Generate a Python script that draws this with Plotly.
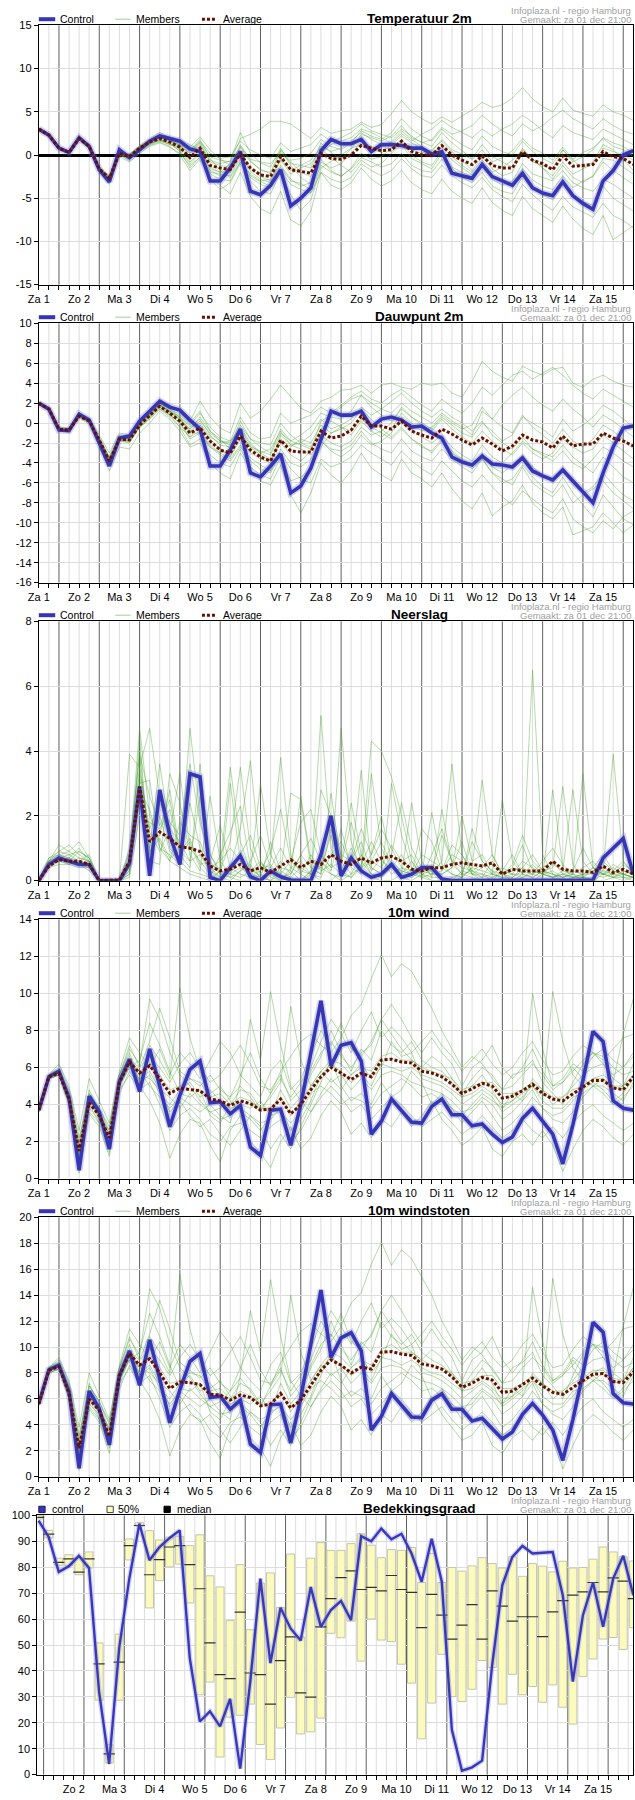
import plotly.graph_objects as go

# ---------------------------------------------------------------- axes data
DAYS = ["Za 1", "Zo 2", "Ma 3", "Di 4", "Wo 5", "Do 6", "Vr 7", "Za 8",
        "Zo 9", "Ma 10", "Di 11", "Wo 12", "Do 13", "Vr 14", "Za 15"]

# hours after Za 1 12:00, ensemble is 6-hourly
HOURS = list(range(0, 360, 6))
# cloud cover steps start at Za 1 21:00
CLOUD_HOURS = list(range(9, 369, 6))
MIDNIGHTS = list(range(12, 360, 24))

TEMP_TICKS = [-15, -10, -5, 0, 5, 10, 15]
DEW_TICKS = [-16, -14, -12, -10, -8, -6, -4, -2, 0, 2, 4, 6, 8, 10]
RAIN_TICKS = [0, 2, 4, 6, 8]
WIND_TICKS = [0, 2, 4, 6, 8, 10, 12, 14]
GUST_TICKS = [0, 2, 4, 6, 8, 10, 12, 14, 16, 18, 20]
CLOUD_TICKS = [0, 10, 20, 30, 40, 50, 60, 70, 80, 90, 100]

# ---------------------------------------------------------------- temperatuur
TEMP_CONTROL = [3.0, 2.3, 0.8, 0.3, 2.0, 1.0, -1.7, -3.1, 0.6, -0.3, 0.6, 1.6, 2.2, 1.9, 1.6, 0.7,
                0.4, -3.0, -3.0, -1.5, 0.4, -4.2, -4.6, -3.5, -1.7, -5.9, -5.0, -3.8, 0.5, 1.8, 1.3, 1.3,
                1.8, 0.4, 1.2, 1.2, 1.1, 0.8, 0.8, 0.1, 0.4, -2.1, -2.4, -2.7, -1.1, -2.5, -3.0, -3.5,
                -2.1, -3.8, -4.4, -4.7, -3.1, -4.7, -5.6, -6.3, -3.0, -1.8, 0.0, 0.5]
TEMP_AVERAGE = [3.0, 2.3, 0.8, 0.3, 1.9, 1.0, -1.6, -2.7, 0.2, -0.2, 0.8, 1.5, 1.9, 1.5, 0.9, -0.3,
                0.8, -1.2, -1.5, -1.7, 0.1, -1.5, -2.3, -2.5, -0.2, -1.7, -1.9, -2.1, 0.2, -0.4, -0.5, 0.0,
                1.1, 0.8, 0.5, 0.6, 1.6, 0.4, 0.0, 0.0, 1.1, 0.0, -0.6, -1.1, -0.1, -1.2, -1.5, -1.5,
                0.4, -0.6, -1.0, -1.7, -0.1, -1.3, -1.2, -1.1, 0.4, -0.2, -0.4, -1.1]
TEMP_MEMBERS = [
    [3.1, 2.4, 0.9, 0.4, 2.1, 1.2, -1.3, -2.4, 0.5, 0.1, 1.1, 1.8, 2.6, 2.0, 1.4, 0.4, 1.5, -0.2, -0.6, -0.8,
     1.9, 2.4, 3.0, 3.9, 3.9, 3.6, 2.8, 1.9, 3.2, 2.5, 2.8, 3.0, 3.8, 3.2, 3.5, 4.8, 6.3, 5.0, 4.2, 3.6,
     4.4, 3.8, 4.5, 5.2, 6.1, 5.5, 5.8, 6.6, 7.8, 6.5, 5.6, 5.0, 6.6, 5.2, 4.8, 4.5, 5.8, 5.0, 4.6, 4.0],
    [2.9, 2.2, 0.6, 0.1, 1.7, 0.7, -2.0, -3.4, -0.2, -0.8, 0.2, 1.0, 1.4, 0.9, 0.2, -1.2, -0.3, -2.6, -3.5, -4.5,
     -2.0, -4.8, -6.2, -6.8, -4.2, -7.5, -8.2, -6.5, -2.0, -3.5, -4.0, -3.2, -1.5, -2.8, -3.6, -3.0, -1.8, -3.2, -4.0, -4.5,
     -2.8, -4.2, -5.0, -5.6, -3.8, -5.5, -6.4, -7.0, -4.8, -6.2, -7.0, -7.8, -5.9, -7.4, -8.5, -9.2, -7.0, -9.8, -9.0, -8.2],
    [3.0, 2.3, 0.7, 0.3, 1.8, 0.9, -1.8, -2.9, 0.4, -0.3, 0.9, 1.7, 2.3, 1.7, 0.6, -0.8, 0.3, -1.8, -2.4, -2.0,
     0.9, -0.8, -1.6, -2.2, 0.5, -1.2, -2.6, -3.4, -0.8, -1.5, -1.0, 0.2, 1.5, 1.0, 0.2, 1.2, 2.2, 1.4, 0.8, 0.4,
     1.8, 0.6, 0.1, -0.5, 0.6, -0.8, -0.3, 0.5, 1.9, 0.8, 0.2, -0.6, 0.9, -0.5, 0.3, 0.8, 1.9, 1.0, 0.6, -0.2],
    [3.0, 2.2, 0.9, 0.2, 2.0, 1.1, -1.5, -2.5, 0.0, -0.5, 0.5, 1.2, 1.6, 1.2, 1.1, 0.2, 1.2, -0.6, -1.0, -0.7,
     2.6, 0.2, -0.9, -1.4, 0.8, -1.0, -1.2, -1.5, 1.4, 0.3, -0.5, 0.7, 2.4, 2.0, 1.6, 2.2, 3.4, 2.0, 1.5, 1.0,
     2.6, 1.4, 0.5, -0.4, 1.2, -0.2, -0.8, -1.4, 0.8, -0.5, -1.5, -2.4, -0.8, -2.2, -1.6, -1.0, 0.8, 0.4, 0.0, -0.6],
    [3.1, 2.3, 0.8, 0.4, 1.9, 1.0, -1.4, -2.6, 0.3, 0.0, 1.0, 1.5, 1.8, 1.4, 0.4, -1.5, -0.2, -2.0, -2.2, -2.4,
     -0.5, -2.4, -3.1, -3.6, -1.4, -3.0, -3.3, -4.0, -1.2, -2.0, -2.4, -1.6, -0.3, -0.8, -1.4, -1.0, 0.2, -1.2, -1.8, -2.0,
     -0.5, -1.6, -2.6, -3.2, -2.0, -3.6, -4.2, -4.5, -2.5, -3.8, -4.6, -5.2, -3.5, -4.8, -5.4, -5.8, -3.6, -5.0, -5.8, -6.5],
    [2.9, 2.3, 0.8, 0.3, 1.8, 0.9, -1.7, -2.8, 0.1, -0.2, 0.7, 1.4, 1.7, 1.4, 1.2, 0.6, 1.8, -0.4, -1.8, -2.6,
     -0.8, -2.2, -3.0, -2.8, -0.4, -1.8, -1.2, -0.6, 1.0, 0.4, 0.8, 1.6, 2.6, 1.8, 1.2, 0.4, 1.4, 0.0, -0.8, -1.2,
     0.4, -0.6, -1.5, -2.3, -1.0, -2.4, -3.0, -3.3, -1.6, -2.9, -3.6, -4.0, -2.4, -3.8, -3.0, -2.5, -0.8, -1.8, -2.6, -3.4],
    [3.0, 2.4, 0.8, 0.3, 2.0, 1.0, -1.5, -2.6, 0.2, -0.4, 0.8, 1.6, 2.0, 1.6, 1.4, 0.9, 2.1, 0.6, -0.5, -1.2,
     0.3, -1.5, -2.5, -3.0, -1.2, -2.8, -3.6, -3.2, 0.2, 1.2, 1.6, 2.0, 3.0, 2.6, 2.0, 1.4, 2.5, 1.6, 2.4, 3.0,
     4.0, 3.2, 2.6, 2.0, 3.0, 2.2, 3.0, 3.6, 4.6, 3.8, 2.8, 2.0, 3.4, 2.6, 2.2, 1.8, 3.0, 2.4, 1.8, 1.2],
    [3.0, 2.2, 0.7, 0.2, 1.9, 1.0, -1.6, -2.8, 0.2, -0.3, 0.6, 1.3, 1.7, 1.2, 0.8, -0.2, 0.9, -1.6, -2.0, -1.8,
     0.0, -1.9, -2.8, -3.2, -0.6, -2.2, -1.5, -1.0, 0.6, -0.2, -1.2, -2.0, -0.6, -1.4, -1.0, 0.2, 1.2, -0.4, -1.0, -1.6,
     0.2, -1.4, -2.0, -2.5, -1.4, -2.8, -3.5, -3.0, -1.0, -2.2, -2.6, -3.0, -1.8, -3.2, -3.8, -4.2, -2.8, -3.4, -4.2, -5.0],
    [3.1, 2.3, 0.9, 0.3, 1.8, 1.1, -1.6, -2.5, 0.3, 0.1, 1.0, 1.7, 2.4, 2.1, 1.8, 1.2, 0.5, -1.4, -2.0, -1.0,
     1.0, -0.5, -0.8, -1.0, 0.2, -0.8, -2.0, -2.5, -0.5, -1.8, -2.5, -1.5, 0.2, -0.5, -0.2, 0.8, 1.8, 0.6, 0.2, 0.6,
     1.6, 0.4, -0.6, -1.8, -0.2, -1.6, -2.4, -2.0, 0.5, -0.8, -1.2, -1.6, 0.6, -0.6, -1.5, -0.8, 1.2, 0.6, -0.5, -1.8],
    [3.0, 2.3, 0.8, 0.4, 2.0, 0.9, -1.8, -3.0, 0.0, -0.6, 0.4, 1.1, 1.5, 1.0, 0.0, -1.8, -0.5, -2.8, -4.0, -3.2,
     -1.0, -3.0, -4.2, -4.5, -2.0, -4.6, -6.4, -5.2, -1.5, -0.8, 0.0, 0.8, 1.2, 0.6, 0.9, 1.6, 2.8, 1.8, 1.0, 0.2,
     1.0, -0.2, -1.2, -2.0, -0.6, -2.0, -1.4, -0.6, 0.6, -0.4, -1.5, -2.8, -1.2, -2.6, -3.2, -2.4, -0.4, -0.6, -1.4, -2.2],
    [3.0, 2.3, 0.8, 0.3, 1.9, 1.0, -1.6, -2.7, 0.3, -0.1, 0.9, 1.5, 2.1, 1.8, 1.0, 0.2, 1.4, -0.8, -1.2, -1.4,
     1.2, -0.6, -1.8, -2.0, 0.6, -0.6, -0.4, 0.2, 1.8, 1.0, 0.6, 1.4, 2.8, 2.2, 1.8, 2.6, 4.2, 3.0, 2.2, 1.6,
     3.0, 2.0, 1.2, 0.6, 2.2, 1.0, 0.4, 0.0, 1.6, 0.4, -0.4, -1.0, 0.6, -0.8, -0.2, 0.6, 2.0, 1.4, 1.0, 0.2],
    [3.0, 2.2, 0.8, 0.2, 1.8, 0.9, -1.7, -2.9, 0.1, -0.4, 0.6, 1.3, 1.8, 1.3, 0.5, -1.0, 0.2, -2.2, -2.8, -3.0,
     -0.8, -2.6, -3.4, -3.8, -1.8, -3.4, -4.0, -4.4, -2.0, -2.8, -3.2, -2.6, -1.0, -1.8, -2.4, -1.8, -0.4, -1.6, -2.4, -2.6,
     -1.2, -2.4, -3.2, -3.8, -2.6, -4.0, -4.8, -5.4, -3.4, -4.6, -5.6, -6.4, -4.8, -6.0, -6.6, -7.2, -5.6, -7.0, -7.6, -8.4],
    [3.1, 2.4, 0.9, 0.4, 2.0, 1.1, -1.5, -2.6, 0.4, 0.0, 1.0, 1.6, 2.2, 1.7, 1.2, 0.5, 1.6, 0.2, -0.4, -0.2,
     1.6, 0.6, 0.0, -0.4, 1.4, 0.4, 0.8, 1.2, 2.4, 1.6, 2.0, 2.6, 3.6, 2.8, 2.4, 2.0, 3.0, 2.2, 1.4, 1.8,
     3.2, 2.4, 2.8, 3.4, 4.6, 3.6, 2.8, 2.2, 3.6, 2.8, 3.4, 4.4, 5.2, 4.2, 3.6, 3.0, 4.2, 3.4, 2.8, 2.4],
]

# ---------------------------------------------------------------- dauwpunt
DEW_CONTROL = [2.0, 1.4, -0.7, -0.75, 0.9, 0.3, -2.0, -4.3, -1.5, -1.3, 0.2, 1.2, 2.2, 1.6, 1.3, 0.3,
               -0.6, -4.3, -4.3, -2.7, -0.6, -5.0, -5.4, -4.3, -3.1, -7.0, -6.3, -4.5, -1.7, 1.2, 0.8, 0.8,
               1.2, -0.4, 0.4, 0.6, 0.3, -0.4, -0.3, -1.0, -1.5, -3.4, -3.9, -4.2, -3.3, -4.1, -4.2, -4.4,
               -3.5, -4.8, -5.3, -5.7, -4.7, -5.8, -6.9, -8.0, -5.0, -2.4, -0.5, -0.3]
DEW_AVERAGE = [2.0, 1.4, -0.6, -0.7, 0.7, 0.2, -1.7, -3.8, -1.6, -1.7, -0.2, 0.7, 1.7, 1.0, 0.2, -1.0,
               -0.5, -1.8, -2.7, -3.0, -1.3, -2.7, -3.4, -3.8, -1.7, -2.8, -2.9, -2.9, -0.8, -1.5, -1.3, -0.7,
               0.7, -0.3, -0.3, -0.6, 0.2, -0.8, -1.2, -1.5, -0.6, -1.1, -1.7, -2.2, -1.5, -2.1, -2.8, -2.3,
               -1.2, -1.7, -1.9, -2.5, -1.3, -2.3, -2.1, -2.1, -1.0, -1.5, -1.8, -2.3]
DEW_MEMBERS = [
    [2.1, 1.5, -0.4, -0.5, 1.0, 0.5, -1.2, -3.0, -1.0, -1.2, 0.4, 1.3, 2.4, 1.8, 1.0, 0.2, 2.2, 0.6, -0.5, -1.0,
     2.0, 0.5, 1.2, 2.4, 3.8, 2.6, 1.5, 1.0, 2.2, 2.6, 3.3, 3.4, 3.8, 3.0, 3.8, 4.0, 3.6, 3.4, 4.0, 3.8,
     4.0, 3.0, 2.6, 4.2, 6.2, 5.2, 4.6, 4.2, 5.7, 5.2, 4.8, 5.4, 5.6, 4.0, 3.6, 4.4, 4.8, 4.2, 3.8, 3.6],
    [1.9, 1.3, -0.8, -0.9, 0.5, -0.1, -2.3, -4.8, -2.4, -2.6, -1.0, 0.0, 1.2, 0.4, -0.8, -2.4, -2.0, -4.0, -5.0, -5.6,
     -3.0, -4.6, -5.8, -6.2, -4.2, -7.2, -9.0, -7.0, -4.0, -5.2, -6.0, -4.8, -3.0, -4.5, -5.2, -5.8, -3.6, -5.0, -5.6, -6.4,
     -5.0, -6.6, -7.8, -8.6, -7.0, -9.3, -8.4, -7.8, -6.2, -8.0, -9.0, -9.6, -8.4, -11.2, -10.8, -10.4, -9.0, -10.0, -11.0, -10.2],
    [2.0, 1.4, -0.5, -0.6, 0.8, 0.2, -1.5, -3.4, -1.2, -1.4, 0.0, 1.0, 1.9, 1.2, 0.6, -0.4, 0.4, -1.2, -2.2, -2.4,
     0.2, -1.6, -2.4, -3.0, -0.6, -1.8, -1.2, -0.4, 1.0, 0.6, 0.4, 1.2, 2.8, 1.6, 0.8, 0.2, 1.4, 0.6, 0.0, -0.6,
     0.6, -0.2, -1.0, -1.4, 0.0, -0.8, -1.8, -1.2, 0.6, 0.0, -0.6, -1.4, 0.4, -0.8, -0.2, 0.6, 1.8, 1.2, 0.4, -0.4],
    [2.0, 1.3, -0.6, -0.8, 0.6, 0.1, -1.9, -4.0, -1.8, -2.0, -0.5, 0.5, 1.4, 0.8, 0.0, -1.6, -1.0, -2.4, -3.2, -3.8,
     -2.4, -3.5, -4.2, -4.8, -2.6, -4.0, -4.4, -3.6, -1.8, -2.6, -2.8, -2.2, -0.8, -2.0, -2.6, -3.0, -1.6, -2.8, -3.4, -3.8,
     -2.6, -3.6, -4.4, -5.0, -3.6, -5.0, -5.6, -6.2, -4.4, -6.0, -6.8, -7.4, -6.2, -8.0, -7.2, -6.6, -5.8, -7.0, -7.8, -8.6],
    [2.1, 1.4, -0.6, -0.6, 0.9, 0.4, -1.6, -3.6, -1.4, -1.6, 0.0, 0.9, 2.0, 1.4, 0.8, 0.0, 1.2, -0.8, -1.8, -2.0,
     -0.4, -2.0, -3.0, -2.6, -0.8, -2.2, -2.0, -1.2, 0.4, -0.6, -0.2, 0.4, 1.6, 0.8, 1.4, 2.2, 3.0, 2.0, 1.2, 0.6,
     1.4, 0.6, 0.0, -0.8, 0.2, -1.2, -2.0, -2.6, -1.4, -2.6, -3.2, -3.8, -2.8, -4.0, -4.6, -3.6, -2.4, -3.0, -3.8, -4.4],
    [1.9, 1.4, -0.7, -0.7, 0.7, 0.3, -1.8, -3.9, -1.5, -1.8, -0.4, 0.6, 1.6, 0.8, -0.4, -2.2, -1.6, -3.2, -4.0, -4.4,
     -2.6, -4.4, -5.2, -5.6, -3.4, -5.8, -5.4, -4.6, -2.4, -1.0, -0.6, 0.0, 1.4, 0.4, -0.6, -1.4, -0.4, -1.6, -2.4, -2.8,
     -1.6, -2.8, -3.6, -4.2, -3.0, -4.4, -5.0, -4.2, -3.2, -4.4, -5.2, -6.0, -4.8, -6.2, -7.0, -6.4, -5.0, -6.2, -7.2, -7.8],
    [2.0, 1.5, -0.5, -0.7, 0.8, 0.3, -1.5, -3.5, -1.6, -1.5, 0.2, 1.0, 2.0, 1.4, 0.6, -0.8, 0.0, -1.4, -2.0, -1.8,
     -0.6, -2.2, -3.0, -3.6, -2.0, -3.2, -3.8, -2.8, 0.2, 0.8, 1.6, 2.4, 2.8, 2.0, 1.4, 1.0, 2.0, 1.2, 0.6, 0.0,
     1.0, 0.2, -0.4, -1.2, 1.2, 0.4, 1.8, 2.8, 3.6, 2.6, 1.8, 1.2, 2.4, 1.4, 0.6, -0.4, 0.8, 0.2, -0.6, -1.4],
    [2.0, 1.4, -0.6, -0.8, 0.6, 0.1, -1.8, -3.8, -1.8, -1.7, -0.4, 0.4, 1.4, 0.6, -0.4, -1.4, -0.2, -1.6, -2.6, -3.4,
     -1.6, -3.0, -3.6, -4.0, -1.2, -2.2, -2.6, -3.2, -1.8, -2.8, -3.4, -2.6, -1.2, -2.2, -1.8, -1.0, 0.6, -0.6, -1.4, -2.0,
     -1.2, -2.4, -3.2, -3.8, -2.2, -3.4, -4.0, -3.0, -1.8, -2.6, -3.0, -3.4, -2.2, -3.4, -4.2, -5.0, -3.4, -4.4, -5.4, -6.0],
    [2.0, 1.4, -0.6, -0.7, 0.7, 0.2, -1.6, -3.7, -1.7, -1.9, -0.3, 0.8, 1.8, 1.1, 0.3, -0.6, 0.6, -0.8, -1.6, -2.6,
     -0.2, -1.6, -2.0, -2.2, 0.0, -1.2, -2.0, -2.4, -0.6, 0.2, -0.4, -1.2, 0.2, -0.8, -1.4, -0.6, 1.0, 0.0, -0.8, -0.4,
     0.8, 0.0, -0.6, -0.2, 1.6, 0.4, -0.4, -1.0, 0.8, -0.4, -1.2, -2.0, -0.6, -1.8, -2.4, -1.6, -0.2, -0.8, -1.6, -2.6],
    [2.0, 1.4, -0.6, -0.7, 0.8, 0.2, -1.7, -4.1, -1.6, -1.6, -0.1, 0.8, 1.7, 1.1, 0.4, -1.0, -1.0, -2.4, -3.0, -2.6,
     -1.0, -2.4, -3.2, -3.8, -1.6, -2.4, -1.6, -2.0, -0.2, -1.0, -0.4, -0.8, 0.4, -0.4, -1.0, -1.6, -0.6, -1.6, -2.2, -3.0,
     -1.8, -3.0, -3.8, -4.6, -3.6, -5.0, -6.0, -5.6, -4.2, -5.4, -6.4, -7.0, -5.4, -7.0, -8.2, -9.4, -7.2, -8.4, -9.6, -10.2],
    [2.0, 1.4, -0.6, -0.7, 0.7, 0.2, -1.7, -3.6, -1.4, -1.5, 0.0, 0.9, 1.8, 1.2, 0.6, -0.2, 1.0, -0.4, -1.4, -1.8,
     0.6, -1.0, -1.6, -1.4, 1.0, 0.0, 0.4, 0.8, 1.6, 1.0, 1.8, 2.6, 3.2, 2.4, 2.0, 2.8, 3.4, 2.6, 1.8, 1.2,
     2.4, 1.6, 1.0, 2.0, 3.6, 2.8, 3.8, 4.8, 5.2, 4.4, 5.0, 5.6, 4.8, 3.8, 3.0, 2.4, 3.4, 2.8, 2.2, 1.6],
    [2.0, 1.4, -0.6, -0.8, 0.7, 0.1, -1.8, -3.9, -1.7, -1.8, -0.3, 0.6, 1.6, 0.9, 0.0, -1.4, -0.8, -2.2, -3.0, -3.6,
     -2.2, -3.8, -4.6, -5.0, -3.0, -4.6, -5.6, -6.0, -3.6, -4.4, -4.0, -3.4, -2.2, -3.0, -3.6, -4.2, -2.8, -3.8, -4.6, -5.2,
     -3.8, -4.8, -5.8, -6.4, -5.2, -6.4, -7.4, -8.2, -6.8, -7.6, -8.4, -9.0, -7.6, -9.6, -10.4, -11.0, -9.8, -10.6, -9.4, -8.8],
    [2.0, 1.4, -0.6, -0.7, 0.8, 0.3, -1.6, -3.6, -1.5, -1.6, -0.1, 0.8, 1.8, 1.2, 0.4, -0.6, 0.2, -1.0, -1.8, -2.2,
     -1.0, -2.4, -2.8, -3.2, -1.0, -1.8, -2.2, -2.6, -1.2, -2.0, -2.4, -1.8, -0.4, -1.2, -0.8, 0.0, 1.6, 0.6, -0.2, -0.8,
     0.4, -0.6, -1.4, -2.0, -0.8, -1.8, -2.6, -3.2, -2.0, -3.0, -3.6, -3.0, -1.6, -2.4, -3.0, -2.6, -1.2, -2.0, -2.8, -3.6],
]

# ---------------------------------------------------------------- neerslag
RAIN_CONTROL = [0.0, 0.5, 0.7, 0.6, 0.5, 0.5, 0.0, 0.0, 0.0, 0.55, 2.9, 0.15, 2.8, 1.4, 0.5, 3.3,
                3.2, 0.1, 0.0, 0.4, 0.77, 0.12, 0.0, 0.3, 0.12, 0.02, 0.0, 0.0, 0.8, 2.0, 0.15, 0.7,
                0.3, 0.1, 0.2, 0.5, 0.1, 0.2, 0.4, 0.4, 0.05, 0.0, 0.0, 0.0, 0.0, 0.0, 0.0, 0.0,
                0.0, 0.0, 0.0, 0.0, 0.0, 0.0, 0.0, 0.02, 0.7, 1.0, 1.3, 0.2]
RAIN_AVERAGE = [0.0, 0.45, 0.65, 0.6, 0.6, 0.5, 0.0, 0.0, 0.02, 0.6, 2.9, 1.2, 1.5, 1.3, 1.05, 1.0,
                0.9, 0.45, 0.3, 0.35, 0.5, 0.3, 0.4, 0.25, 0.45, 0.65, 0.4, 0.6, 0.5, 0.8, 0.6, 0.5,
                0.7, 0.55, 0.7, 0.75, 0.6, 0.35, 0.3, 0.4, 0.4, 0.5, 0.55, 0.5, 0.45, 0.55, 0.2, 0.35,
                0.3, 0.3, 0.3, 0.6, 0.35, 0.3, 0.3, 0.25, 0.45, 0.25, 0.35, 0.2]
RAIN_MEMBERS = [
    [0, 0.6, 0.9, 1.1, 0.8, 0.6, 0, 0, 0, 0.8, 4.7, 2.0, 1.2, 0.6, 0.4, 0.2, 0.1, 0, 0.3, 1.2,
     3.5, 1.0, 0.2, 0, 0, 0.4, 0.6, 0.2, 0, 0, 0.3, 1.0, 0.4, 4.3, 4.0, 3.2, 2.0, 0.6, 0.2, 0,
     0, 0.1, 0.2, 0.3, 0.2, 0, 0, 0, 0.1, 0.2, 0.6, 1.0, 0.5, 0.2, 0, 0.1, 0.3, 0.2, 0.1, 0.1],
    [0, 0.5, 0.7, 0.5, 0.4, 0.4, 0, 0, 0, 3.9, 3.5, 4.7, 2.6, 1.0, 0.6, 4.7, 2.0, 0.4, 0.1, 0,
     0.3, 0.5, 0.1, 0, 0.2, 0, 0, 0.3, 0.8, 0.4, 4.7, 1.2, 0.3, 0.1, 0, 0, 0.2, 0.6, 0.1, 0,
     0, 0, 0.1, 0.4, 3.1, 0.8, 0.2, 0, 0, 0, 0.2, 0.1, 0, 0, 0.1, 0, 0.2, 0.1, 0, 0.1],
    [0, 0.6, 1.1, 0.9, 1.2, 0.7, 0, 0, 0, 0.3, 2.4, 1.0, 3.6, 1.5, 3.3, 1.0, 0.6, 0.2, 0.4, 3.5,
     1.2, 0.3, 0.6, 0.2, 0, 0.3, 2.6, 0.6, 0.4, 0.2, 0, 0.2, 0.8, 0.2, 0.1, 3.0, 1.4, 0.4, 0.2, 0.1,
     2.2, 0.5, 0.2, 0.1, 0, 0, 0.3, 0.8, 0.2, 6.5, 0.8, 0.2, 0, 0.1, 0.1, 0, 0, 0.1, 0.2, 0.1],
    [0, 0.4, 0.6, 0.7, 0.5, 0.3, 0, 0, 0, 1.0, 3.9, 2.6, 1.7, 2.5, 0.8, 0.4, 3.6, 0.8, 0.3, 0.1,
     0, 0, 0.2, 0.6, 3.8, 0.8, 0.2, 0, 5.1, 1.0, 0.3, 0.1, 0.4, 0.6, 1.2, 0.5, 0.2, 2.4, 0.6, 0.1,
     0.1, 0, 0.3, 0.2, 0.1, 0.6, 0.2, 0.3, 0.4, 0.2, 0.1, 2.8, 0.4, 0.1, 0.1, 0.1, 0.5, 0.1, 0.1, 0],
    [0, 0.5, 0.6, 0.6, 0.9, 0.7, 0, 0, 0, 0.2, 4.4, 0.6, 0.5, 3.3, 2.4, 0.8, 0.3, 2.6, 0.6, 0.2,
     0.1, 0.3, 3.0, 0.8, 0.2, 2.7, 2.5, 0.4, 0.2, 2.7, 0.5, 1.8, 0.6, 0.2, 0.1, 0.4, 0.2, 0.1, 0.3, 0.2,
     0.6, 3.6, 0.8, 0.2, 0, 0.1, 0.3, 0.2, 0.2, 0.1, 0.3, 0.4, 2.9, 0.5, 0.1, 0.3, 0.2, 0.5, 0.3, 0.2],
    [0, 0.7, 0.8, 0.9, 0.7, 0.6, 0, 0, 0, 0.4, 3.0, 3.1, 1.0, 0.8, 0.5, 2.4, 1.0, 0.2, 0, 3.0,
     0.6, 0.2, 0.1, 0, 0.4, 0.3, 0, 0.2, 0.6, 0.3, 1.6, 0.4, 0.2, 3.3, 1.0, 0.4, 0.8, 0.2, 0.8, 0.6,
     0.4, 0.2, 0.1, 1.6, 0.6, 0.3, 0, 0, 0.2, 0.5, 0.2, 0.1, 0.3, 0.2, 3.3, 0.4, 0.2, 0.2, 0.5, 0.3],
    [0, 0.6, 0.7, 0.8, 0.6, 0.5, 0, 0, 0, 0.1, 2.0, 1.8, 1.6, 2.2, 0.8, 1.2, 0.4, 0.1, 0.8, 1.5,
     2.3, 0.4, 0.1, 1.2, 0.3, 0.1, 0, 0.3, 0.4, 1.4, 0.2, 0.8, 0.3, 0.6, 0.4, 1.1, 0.6, 0.8, 0.2, 0.3,
     1.4, 0.6, 0.4, 0.3, 0.5, 0.2, 0.4, 0.2, 0.1, 0.3, 0.2, 0.5, 0.3, 2.8, 0.6, 0.2, 0.2, 0.1, 0.3, 0.2],
    [0, 0.4, 0.5, 0.5, 0.6, 0.8, 0, 0, 0, 0.3, 3.2, 1.5, 0.9, 1.6, 1.2, 0.6, 0.8, 0.3, 0.1, 0.4,
     1.6, 3.7, 0.6, 0.1, 0, 0.1, 0.4, 0.2, 0.1, 0.8, 1.2, 0.5, 3.4, 0.4, 0.2, 0.5, 0.1, 0, 0.2, 2.1,
     0.5, 0.2, 0.1, 0.4, 0.3, 0.2, 2.5, 0.6, 0.2, 0.1, 0.3, 0.2, 0.1, 0.2, 0.1, 0.4, 0.3, 3.9, 0.6, 0.2],
    [0, 0.5, 0.6, 0.7, 1.0, 0.6, 0, 0, 0, 0.2, 2.6, 0.9, 1.3, 0.7, 0.9, 1.3, 0.5, 0.6, 1.7, 0.4,
     0.2, 0.1, 0.3, 0.5, 0.1, 0.2, 0.8, 1.3, 0.6, 0.2, 0.1, 0.6, 1.2, 0.3, 0.7, 0.2, 0.4, 0.3, 0.1, 0.2,
     0.3, 1.1, 0.8, 0.3, 0.1, 0.2, 0.1, 0.1, 0.4, 0.8, 0.3, 0.1, 0.2, 0.1, 0.2, 0.3, 0.6, 0.3, 0.2, 0.3],
    [0, 0.5, 0.8, 0.6, 0.5, 0.4, 0, 0, 0, 0.6, 4.0, 0.8, 2.0, 0.9, 0.6, 0.3, 0.2, 0.1, 0.3, 0.2,
     0.4, 0.2, 0.5, 0.4, 1.0, 0.4, 0.2, 0.8, 0.3, 0.5, 0.2, 0.1, 0.5, 1.2, 0.6, 0.4, 0.3, 0.2, 0.4, 0.3,
     0.2, 0.4, 1.2, 0.2, 0.2, 0.1, 0.2, 0.4, 1.1, 0.3, 0.2, 0.1, 0.2, 0.3, 0.2, 0.2, 0.1, 0.2, 0.2, 0.1],
    [0, 0.6, 0.8, 0.7, 0.6, 0.5, 0, 0, 0, 0.5, 3.4, 1.6, 2.4, 1.8, 1.4, 3.6, 1.8, 0.6, 0.2, 0.1,
     0.3, 0.6, 1.4, 0.4, 0.2, 0.6, 1.8, 2.2, 0.8, 0.4, 0.6, 0.2, 0.4, 0.8, 1.6, 1.0, 0.4, 0.2, 0.1, 0.8,
     1.6, 0.6, 0.2, 1.2, 0.6, 0.3, 0.2, 0.5, 1.4, 0.6, 0.3, 0.2, 0.1, 0.3, 1.0, 0.4, 0.2, 0.3, 0.6, 0.2],
    [0, 0.5, 0.6, 0.5, 0.7, 0.6, 0, 0, 0, 0.9, 2.8, 2.2, 1.0, 0.6, 1.8, 1.4, 1.2, 0.4, 0.6, 1.0,
     0.6, 0.2, 0.3, 0.9, 2.2, 0.6, 0.3, 0.2, 2.8, 2.0, 0.8, 0.6, 1.6, 0.8, 2.0, 0.6, 0.3, 0.2, 1.6, 1.2,
     0.3, 0.8, 0.6, 0.2, 0.4, 0.8, 0.2, 0.1, 0.3, 0.2, 0.4, 0.6, 0.2, 0.1, 0.2, 0.4, 0.8, 0.3, 0.2, 0.1],
    [0, 0.7, 0.9, 0.8, 0.9, 0.7, 0, 0, 0, 0.4, 3.6, 1.2, 1.4, 2.8, 0.9, 0.6, 2.6, 0.8, 0.2, 0.2,
     0.8, 1.4, 0.4, 0.2, 0.6, 0.2, 0.8, 0.4, 0.2, 1.6, 0.6, 2.4, 0.8, 0.4, 0.2, 0.8, 2.4, 1.0, 0.4, 0.2,
     0.2, 0.4, 2.0, 0.6, 0.8, 0.2, 0.1, 0.2, 0.6, 0.4, 0.2, 0.3, 0.1, 0.2, 0.4, 0.6, 0.2, 0.4, 0.2, 0.1],
]

# ---------------------------------------------------------------- 10m wind
WIND_CONTROL = [3.7, 5.5, 5.8, 4.35, 0.45, 4.45, 3.6, 1.6, 5.25, 6.45, 4.7, 7.0, 5.0, 2.8, 4.5, 5.9,
                6.35, 4.1, 4.15, 3.5, 3.95, 1.7, 1.25, 3.7, 3.75, 1.8, 4.0, 6.8, 9.6, 6.1, 7.2, 7.35,
                6.35, 2.4, 3.1, 4.3, 3.65, 3.05, 3.0, 3.9, 4.3, 3.45, 3.45, 2.85, 2.95, 2.4, 1.95, 2.25,
                3.25, 3.8, 3.1, 2.4, 0.8, 2.9, 5.3, 7.95, 7.4, 4.2, 3.8, 3.7]
WIND_AVERAGE = [3.7, 5.5, 5.7, 4.3, 1.5, 4.1, 3.4, 2.2, 5.2, 6.3, 5.7, 6.1, 5.4, 4.6, 4.9, 4.8,
                4.75, 4.3, 4.2, 3.95, 4.2, 4.05, 3.7, 3.75, 4.3, 3.5, 4.0, 4.8, 5.5, 6.0, 5.7, 5.35,
                5.7, 5.5, 6.4, 6.45, 6.3, 6.25, 5.8, 5.7, 5.5, 5.1, 4.6, 4.85, 5.15, 5.0, 4.35, 4.45,
                4.75, 5.1, 4.6, 4.3, 4.2, 4.6, 4.95, 5.3, 5.3, 4.9, 4.8, 5.5]
WIND_MEMBERS = [
    [3.6, 5.6, 6.0, 4.8, 2.2, 4.6, 3.8, 2.8, 5.6, 7.0, 6.2, 9.7, 8.6, 6.8, 5.6, 5.0, 4.2, 3.6, 3.8, 4.4,
     5.0, 4.4, 3.6, 4.6, 5.8, 6.6, 7.4, 7.8, 7.2, 6.8, 7.6, 8.8, 9.4, 10.8, 12.1, 10.9, 11.6, 11.2, 10.2, 9.2,
     8.0, 7.0, 6.0, 6.6, 6.2, 5.4, 4.8, 5.6, 5.8, 6.4, 5.2, 4.6, 4.0, 5.2, 6.2, 6.8, 6.6, 6.0, 5.6, 5.8],
    [3.8, 5.4, 5.6, 4.0, 0.3, 3.5, 2.8, 1.2, 4.6, 5.8, 5.0, 4.2, 3.0, 1.1, 2.4, 3.2, 3.0, 1.8, 0.9, 2.6,
     3.4, 2.0, 1.4, 0.6, 2.0, 2.8, 1.6, 2.2, 3.4, 4.2, 3.6, 2.4, 3.0, 2.2, 3.2, 2.8, 3.6, 2.8, 3.4, 4.2,
     3.2, 2.6, 1.8, 2.2, 2.8, 1.6, 1.2, 2.0, 2.4, 1.8, 2.6, 1.8, 0.4, 1.6, 2.6, 3.2, 2.8, 2.2, 1.8, 2.4],
    [3.7, 5.6, 6.2, 5.0, 2.6, 5.4, 4.2, 3.0, 5.8, 7.6, 6.8, 6.0, 7.0, 5.6, 6.8, 6.2, 5.4, 6.4, 7.4, 6.8,
     5.6, 5.0, 4.4, 5.8, 6.4, 4.8, 5.4, 6.6, 8.0, 7.2, 8.4, 7.0, 6.6, 7.4, 8.6, 9.4, 8.6, 7.6, 6.8, 7.6,
     6.8, 6.2, 5.0, 6.0, 6.4, 7.2, 6.0, 5.4, 6.0, 7.0, 5.8, 5.0, 5.4, 6.2, 5.8, 6.6, 7.0, 6.4, 6.0, 6.8],
    [3.6, 5.4, 5.6, 4.2, 1.0, 3.8, 3.2, 2.0, 5.0, 6.0, 5.4, 5.8, 4.8, 3.6, 4.2, 3.4, 2.8, 3.2, 2.4, 1.8,
     2.6, 3.4, 2.8, 1.6, 2.4, 1.6, 2.8, 4.0, 5.2, 6.4, 5.0, 4.2, 4.6, 4.0, 5.2, 4.4, 4.8, 5.8, 5.2, 4.0,
     4.6, 3.8, 3.0, 3.6, 4.2, 3.4, 2.6, 3.0, 3.6, 4.4, 3.8, 3.2, 3.0, 3.6, 4.4, 5.0, 4.6, 4.0, 4.4, 5.0],
    [3.7, 5.5, 5.8, 4.6, 1.8, 4.8, 3.6, 2.4, 5.4, 6.8, 5.2, 7.2, 6.4, 5.4, 10.3, 7.6, 5.8, 4.6, 5.0, 4.2,
     3.6, 3.2, 2.6, 3.4, 4.8, 3.8, 4.4, 5.6, 6.6, 8.0, 6.8, 5.8, 7.0, 6.4, 8.0, 7.2, 6.8, 7.4, 6.4, 6.0,
     5.8, 5.2, 4.4, 5.0, 5.6, 4.8, 3.8, 4.6, 4.2, 5.4, 4.8, 4.0, 4.4, 5.0, 5.6, 6.0, 6.2, 5.4, 5.0, 6.2],
    [3.8, 5.6, 5.9, 4.4, 1.4, 4.0, 3.0, 2.2, 5.0, 6.2, 5.8, 5.0, 4.4, 3.8, 4.4, 4.0, 3.6, 4.0, 3.4, 3.0,
     5.2, 8.6, 6.4, 10.1, 7.2, 5.0, 4.2, 3.6, 4.6, 5.4, 4.8, 5.6, 6.2, 5.4, 6.0, 7.4, 6.6, 6.8, 5.4, 5.2,
     5.0, 4.6, 4.0, 4.4, 4.8, 4.4, 3.6, 4.0, 4.4, 5.0, 4.2, 3.8, 3.8, 4.4, 4.6, 5.0, 5.0, 4.6, 4.2, 5.2],
    [3.7, 5.5, 5.6, 4.2, 1.2, 4.2, 3.6, 2.0, 5.2, 6.0, 6.4, 8.4, 7.2, 5.8, 4.6, 4.4, 4.8, 3.4, 3.0, 4.0,
     4.8, 4.6, 3.8, 4.4, 5.2, 9.3, 6.4, 5.0, 5.8, 5.2, 5.6, 4.8, 5.4, 4.8, 5.6, 5.8, 5.6, 5.2, 5.0, 4.8,
     4.6, 4.2, 3.6, 3.8, 4.4, 4.0, 3.2, 3.6, 4.2, 4.8, 3.8, 3.4, 3.6, 4.2, 4.8, 5.2, 4.8, 4.2, 4.6, 5.4],
    [3.6, 5.4, 5.8, 4.4, 1.6, 4.4, 3.4, 2.6, 5.6, 6.6, 5.2, 5.6, 4.6, 4.0, 4.8, 5.2, 4.4, 4.8, 4.2, 3.8,
     4.0, 3.8, 4.2, 3.4, 3.6, 3.0, 3.6, 4.6, 5.0, 4.6, 4.0, 4.4, 4.2, 3.8, 4.6, 5.0, 5.4, 5.0, 4.4, 4.6,
     4.2, 3.8, 3.4, 4.0, 4.6, 4.2, 3.8, 4.2, 4.8, 10.0, 7.0, 5.0, 5.2, 6.0, 5.4, 5.0, 5.4, 4.8, 5.0, 5.6],
    [3.7, 5.6, 5.7, 4.1, 1.0, 4.0, 3.4, 1.8, 5.0, 6.2, 5.6, 5.4, 4.8, 4.4, 3.8, 4.6, 4.0, 3.6, 3.2, 3.4,
     3.8, 3.4, 3.0, 3.2, 3.8, 2.6, 3.2, 4.2, 5.6, 6.2, 5.8, 5.2, 5.6, 5.0, 6.2, 6.0, 5.8, 6.0, 5.6, 5.4,
     5.2, 4.8, 4.4, 4.6, 5.0, 4.6, 4.0, 4.2, 4.6, 5.0, 4.4, 10.1, 7.4, 5.6, 5.0, 5.4, 5.6, 5.2, 7.8, 9.7],
    [3.7, 5.5, 5.7, 4.3, 1.6, 4.2, 3.4, 2.4, 5.4, 6.4, 5.6, 6.2, 5.6, 4.8, 5.0, 5.4, 5.2, 4.4, 4.6, 4.0,
     4.4, 4.2, 3.8, 3.8, 4.4, 3.4, 4.2, 5.0, 5.8, 6.4, 6.2, 5.6, 6.0, 5.8, 6.6, 6.8, 6.4, 6.4, 6.0, 5.8,
     5.6, 5.4, 4.8, 5.0, 5.2, 5.2, 4.6, 4.6, 4.8, 5.2, 4.8, 4.4, 4.4, 4.8, 5.0, 5.4, 5.4, 5.0, 5.0, 5.6],
    [3.7, 5.6, 5.9, 4.6, 2.0, 4.6, 3.8, 2.6, 5.6, 7.2, 6.0, 7.4, 9.2, 7.6, 5.8, 5.4, 5.0, 5.6, 4.8, 4.4,
     5.6, 6.8, 5.4, 4.6, 5.4, 4.4, 5.2, 6.0, 7.4, 8.6, 7.8, 6.8, 8.0, 9.0, 7.6, 8.2, 7.6, 6.8, 7.4, 8.0,
     7.2, 6.6, 5.8, 6.4, 7.0, 6.2, 5.6, 6.0, 6.8, 7.4, 6.4, 5.6, 5.8, 6.6, 7.2, 6.8, 6.4, 7.0, 7.6, 7.8],
    [3.6, 5.4, 5.6, 4.0, 0.8, 3.6, 3.0, 1.4, 4.8, 5.6, 4.8, 5.2, 4.0, 2.6, 3.4, 3.8, 3.2, 2.4, 2.0, 2.8,
     3.0, 2.6, 2.2, 2.8, 3.2, 2.0, 2.6, 3.6, 4.4, 5.0, 4.4, 3.6, 4.0, 3.2, 3.8, 4.4, 4.0, 3.4, 2.8, 3.2,
     3.6, 3.0, 2.4, 2.8, 3.4, 2.8, 2.2, 2.6, 3.2, 2.6, 2.2, 2.8, 2.2, 3.0, 3.6, 4.0, 3.4, 3.0, 2.6, 3.0],
    [3.7, 5.5, 5.8, 4.4, 1.2, 4.4, 3.2, 2.2, 5.2, 6.4, 6.0, 6.6, 6.0, 5.2, 6.2, 6.8, 6.0, 5.2, 5.6, 6.4,
     7.2, 6.2, 5.0, 4.8, 5.6, 4.2, 4.8, 5.8, 6.8, 7.4, 6.6, 6.0, 6.8, 7.2, 8.6, 7.8, 7.0, 6.4, 6.0, 6.6,
     6.2, 5.4, 4.6, 5.4, 6.0, 5.6, 4.8, 5.0, 5.6, 6.2, 5.6, 4.8, 5.2, 5.8, 6.4, 6.8, 6.2, 5.6, 6.0, 6.6],
]

# ---------------------------------------------------------------- 10m windstoten
GUST_CONTROL = [5.65, 8.25, 8.6, 6.55, 0.65, 6.6, 5.25, 2.45, 7.8, 9.7, 7.05, 10.55, 7.55, 4.15, 6.7, 8.9,
                9.5, 6.1, 6.2, 5.2, 5.9, 2.5, 1.85, 5.55, 5.6, 2.6, 6.1, 10.2, 14.4, 9.2, 10.7, 11.1,
                9.7, 3.6, 4.65, 6.4, 5.45, 4.6, 4.55, 5.9, 6.4, 5.2, 5.2, 4.3, 4.5, 3.65, 2.9, 3.45,
                4.8, 5.65, 4.75, 3.6, 1.25, 4.4, 7.95, 11.9, 11.15, 6.4, 5.7, 5.6]
GUST_AVERAGE = [5.6, 8.2, 8.5, 6.4, 2.2, 6.0, 5.1, 3.1, 7.8, 9.5, 8.6, 9.1, 8.0, 6.8, 7.3, 7.25,
                7.1, 6.35, 6.3, 5.9, 6.3, 6.1, 5.45, 5.6, 6.4, 5.3, 5.9, 7.1, 8.2, 9.0, 8.6, 8.0,
                8.45, 8.3, 9.6, 9.65, 9.45, 9.35, 8.7, 8.55, 8.3, 7.7, 6.9, 7.2, 7.65, 7.45, 6.5, 6.6,
                7.1, 7.6, 7.0, 6.5, 6.35, 6.9, 7.4, 7.9, 7.95, 7.35, 7.25, 8.1]
GUST_MEMBERS = [
    [5.5, 8.4, 9.0, 7.2, 3.2, 7.0, 5.8, 4.2, 8.4, 10.6, 9.4, 14.5, 13.0, 10.2, 8.4, 7.6, 6.4, 5.4, 5.8, 6.6,
     7.6, 6.6, 5.4, 7.0, 8.8, 10.0, 11.2, 11.8, 11.0, 10.4, 11.6, 13.4, 14.2, 16.4, 18.1, 16.3, 17.5, 16.8, 15.4, 14.0,
     12.0, 10.6, 9.0, 10.0, 9.4, 8.2, 7.2, 8.4, 8.8, 9.6, 7.8, 7.0, 6.0, 7.8, 9.4, 10.2, 10.0, 9.0, 8.4, 8.8],
    [5.7, 8.0, 8.3, 6.0, 0.5, 5.2, 4.2, 1.8, 6.8, 8.6, 7.4, 6.2, 4.4, 1.6, 3.6, 4.8, 4.4, 2.6, 1.4, 3.8,
     5.0, 3.0, 2.2, 0.8, 3.0, 4.2, 2.4, 3.2, 5.0, 6.2, 5.4, 3.6, 4.4, 3.2, 4.8, 4.2, 5.4, 4.2, 5.0, 6.2,
     4.8, 3.8, 2.8, 3.2, 4.2, 2.4, 1.8, 3.0, 3.6, 2.8, 3.8, 2.8, 0.6, 2.4, 4.0, 4.8, 4.2, 3.4, 2.8, 3.6],
    [5.6, 8.4, 9.2, 7.4, 3.8, 8.0, 6.2, 4.4, 8.6, 11.4, 10.2, 9.0, 10.4, 8.4, 10.2, 9.2, 8.0, 9.6, 11.2, 10.2,
     8.4, 7.4, 6.6, 8.6, 9.6, 7.2, 8.0, 9.8, 12.0, 10.8, 12.6, 10.4, 9.8, 11.0, 12.8, 14.0, 12.8, 11.4, 10.2, 11.4,
     10.2, 9.2, 7.4, 9.0, 9.6, 10.8, 9.0, 8.0, 9.0, 10.4, 8.6, 7.4, 8.0, 9.2, 8.6, 9.8, 10.4, 9.6, 9.0, 10.2],
    [5.5, 8.0, 8.3, 6.2, 1.4, 5.6, 4.8, 3.0, 7.4, 9.0, 8.0, 8.6, 7.2, 5.4, 6.2, 5.0, 4.2, 4.8, 3.6, 2.6,
     3.8, 5.0, 4.2, 2.4, 3.6, 2.4, 4.2, 6.0, 7.8, 9.6, 7.4, 6.2, 6.8, 6.0, 7.8, 6.6, 7.2, 8.6, 7.8, 6.0,
     6.8, 5.6, 4.4, 5.4, 6.2, 5.0, 3.8, 4.4, 5.4, 6.6, 5.6, 4.8, 4.4, 5.4, 6.6, 7.4, 6.8, 6.0, 6.6, 7.4],
    [5.6, 8.2, 8.6, 6.8, 2.6, 7.2, 5.4, 3.6, 8.0, 10.2, 7.8, 10.8, 9.6, 8.0, 15.6, 11.4, 8.6, 6.8, 7.4, 6.2,
     5.4, 4.8, 3.8, 5.0, 7.2, 5.6, 6.6, 8.4, 9.8, 12.0, 10.2, 8.6, 10.4, 9.6, 12.0, 10.8, 10.2, 11.0, 9.6, 9.0,
     8.6, 7.8, 6.6, 7.4, 8.4, 7.2, 5.6, 6.8, 6.2, 8.0, 7.2, 6.0, 6.6, 7.4, 8.4, 9.0, 9.2, 8.0, 7.4, 9.2],
    [5.7, 8.4, 8.8, 6.6, 2.0, 6.0, 4.4, 3.2, 7.4, 9.2, 8.6, 7.4, 6.6, 5.6, 6.6, 6.0, 5.4, 6.0, 5.0, 4.4,
     7.8, 12.8, 9.6, 15.2, 10.8, 7.4, 6.2, 5.4, 6.8, 8.0, 7.2, 8.4, 9.2, 8.0, 9.0, 11.0, 9.8, 10.2, 8.0, 7.8,
     7.4, 6.8, 6.0, 6.6, 7.2, 6.6, 5.4, 6.0, 6.6, 7.4, 6.2, 5.6, 5.6, 6.6, 6.8, 7.4, 7.4, 6.8, 6.2, 7.8],
    [5.6, 8.2, 8.4, 6.2, 1.8, 6.2, 5.4, 3.0, 7.8, 9.0, 9.6, 12.6, 10.8, 8.6, 6.8, 6.6, 7.2, 5.0, 4.4, 6.0,
     7.2, 6.8, 5.6, 6.6, 7.8, 14.0, 9.6, 7.4, 8.6, 7.8, 8.4, 7.2, 8.0, 7.2, 8.4, 8.6, 8.4, 7.8, 7.4, 7.2,
     6.8, 6.2, 5.4, 5.6, 6.6, 6.0, 4.8, 5.4, 6.2, 7.2, 5.6, 5.0, 5.4, 6.2, 7.2, 7.8, 7.2, 6.2, 6.8, 8.0],
    [5.5, 8.0, 8.6, 6.6, 2.4, 6.6, 5.0, 3.8, 8.4, 9.8, 7.8, 8.4, 6.8, 6.0, 7.2, 7.8, 6.6, 7.2, 6.2, 5.6,
     6.0, 5.6, 6.2, 5.0, 5.4, 4.4, 5.4, 6.8, 7.4, 6.8, 6.0, 6.6, 6.2, 5.6, 6.8, 7.4, 8.0, 7.4, 6.6, 6.8,
     6.2, 5.6, 5.0, 6.0, 6.8, 6.2, 5.6, 6.2, 7.2, 14.6, 10.4, 7.4, 7.8, 9.0, 8.0, 7.4, 8.0, 7.2, 7.4, 8.4],
    [5.6, 8.4, 8.5, 6.1, 1.4, 6.0, 5.0, 2.6, 7.4, 9.2, 8.4, 8.0, 7.2, 6.6, 5.6, 6.8, 6.0, 5.4, 4.8, 5.0,
     5.6, 5.0, 4.4, 4.8, 5.6, 3.8, 4.8, 6.2, 8.4, 9.2, 8.6, 7.8, 8.4, 7.4, 9.2, 9.0, 8.6, 9.0, 8.4, 8.0,
     7.8, 7.2, 6.6, 6.8, 7.4, 6.8, 6.0, 6.2, 6.8, 7.4, 6.6, 15.3, 11.0, 8.4, 7.4, 8.0, 8.4, 7.8, 11.6, 14.6],
    [5.6, 8.2, 8.5, 6.4, 2.4, 6.2, 5.0, 3.6, 8.0, 9.6, 8.4, 9.2, 8.4, 7.2, 7.4, 8.0, 7.8, 6.6, 6.8, 6.0,
     6.6, 6.2, 5.6, 5.6, 6.6, 5.0, 6.2, 7.4, 8.6, 9.6, 9.2, 8.4, 9.0, 8.6, 9.8, 10.2, 9.6, 9.6, 9.0, 8.6,
     8.4, 8.0, 7.2, 7.4, 7.8, 7.8, 6.8, 6.8, 7.2, 7.8, 7.2, 6.6, 6.6, 7.2, 7.6, 8.2, 8.2, 7.6, 7.4, 8.4],
    [5.6, 8.4, 8.8, 7.0, 3.0, 7.0, 5.8, 4.0, 8.4, 10.8, 9.0, 11.0, 13.6, 11.4, 8.8, 8.2, 7.6, 8.4, 7.2, 6.6,
     8.4, 10.2, 8.2, 7.0, 8.2, 6.6, 7.8, 9.0, 11.0, 12.8, 11.6, 10.2, 12.0, 13.4, 11.4, 12.2, 11.4, 10.2, 11.0, 12.0,
     10.8, 9.8, 8.6, 9.6, 10.4, 9.2, 8.4, 9.0, 10.2, 11.0, 9.6, 8.4, 8.6, 9.8, 10.8, 10.2, 9.6, 10.4, 11.4, 11.6],
    [5.5, 8.0, 8.3, 6.0, 1.2, 5.4, 4.4, 2.2, 7.2, 8.4, 7.2, 7.8, 6.0, 3.8, 5.0, 5.6, 4.8, 3.6, 3.0, 4.2,
     4.6, 3.8, 3.2, 4.2, 4.8, 3.0, 3.8, 5.4, 6.6, 7.4, 6.6, 5.4, 6.0, 4.8, 5.6, 6.6, 6.0, 5.0, 4.2, 4.8,
     5.4, 4.4, 3.6, 4.2, 5.0, 4.2, 3.2, 3.8, 4.8, 3.8, 3.2, 4.2, 3.2, 4.4, 5.4, 6.0, 5.0, 4.4, 3.8, 4.4],
    [5.6, 8.2, 8.6, 6.6, 1.8, 6.6, 4.8, 3.2, 7.8, 9.6, 9.0, 9.8, 9.0, 7.8, 9.2, 10.2, 9.0, 7.8, 8.4, 9.6,
     10.8, 9.2, 7.4, 7.2, 8.4, 6.2, 7.2, 8.6, 10.2, 11.0, 9.8, 9.0, 10.2, 10.8, 12.8, 11.6, 10.4, 9.6, 9.0, 9.8,
     9.2, 8.0, 6.8, 8.0, 9.0, 8.4, 7.2, 7.4, 8.4, 9.2, 8.4, 7.2, 7.8, 8.6, 9.6, 10.2, 9.2, 8.4, 9.0, 9.8],
]

# ---------------------------------------------------------------- bedekkingsgraad
CLOUD_CONTROL = [98, 91.7, 78.2, 80.4, 84.4, 79.7, 32, 4.1, 49, 75.6, 96.8, 82.7, 87.8, 91.3, 94.2, 44.9,
                 20.5, 24.4, 18.6, 29.2, 2.3, 35.9, 75.6, 43, 64.4, 56.4, 51.7, 72.4, 57, 63.5, 67, 59.6,
                 92, 90, 94.9, 90.8, 92.9, 85.3, 74.4, 91, 74.4, 17.3, 1.5, 2.8, 5.4, 42.3, 73, 84,
                 88.2, 85.3, 85.6, 85.9, 69.2, 35.9, 61.5, 74.1, 57, 75.6, 84.4, 69.2]
CLOUD_HIGH = [100, 94.2, 83.5, 84.8, 83.8, 85.9, 50.8, 11.6, 54.2, 90.9, 97.3, 94.1, 90.5, 91.6, 91.9, 88.3,
              92.5, 76.7, 72.4, 59.4, 81.0, 55.9, 73.9, 77.8, 64.5, 85.1, 53.1, 83.5, 89.5, 86.5, 86.5, 89.1,
              92.9, 88.5, 83.7, 86.8, 86.5, 87.6, 74.1, 85.3, 74.1, 79.9, 78.5, 80.5, 83.7, 81.4, 79.7, 84.0,
              76.5, 81.4, 80.4, 78.2, 82.3, 79.7, 79.9, 83.1, 87.8, 85.9, 84.0, 82.4]
CLOUD_LOW = [98.6, 91.3, 80.7, 80.6, 77.1, 79.7, 28.7, 4.5, 28.7, 82.8, 95.8, 64.3, 74.8, 80.1, 81.2, 66.2,
             30.8, 35.7, 6.8, 22.2, 22.9, 27.2, 11.6, 5.8, 18.0, 29.8, 15.7, 16.5, 21.8, 54.5, 52.8, 59.2,
             43.8, 60.0, 51.9, 51.3, 42.6, 35.3, 13.8, 27.6, 46.4, 30.1, 28.2, 32.9, 44.0, 41.3, 27.2, 38.7,
             30.8, 34.0, 27.9, 34.6, 26.0, 19.5, 37.8, 44.6, 52.3, 52.9, 48.3, 56.7]
CLOUD_MEDIAN = [99.2, 92.8, 81.9, 83.2, 78.1, 83.2, 42.7, 8.0, 43.4, 88.3, 96.1, 77.1, 82.9, 87.8, 88.3, 81.0,
                71.7, 50.8, 38.6, 37.0, 62.7, 39.2, 38.6, 27.2, 44.0, 53.1, 31.5, 29.9, 57.0, 67.9, 76.0, 78.6,
                71.4, 72.2, 70.9, 76.8, 71.4, 70.3, 56.7, 69.5, 61.5, 52.3, 57.7, 65.6, 52.3, 70.9, 65.0, 59.2,
                60.9, 60.9, 53.2, 62.8, 67.1, 69.2, 70.5, 74.1, 70.5, 75.9, 74.6, 67.9]

# ---------------------------------------------------------------- styling
W, H = 635, 1800
FONT = "Liberation Sans, Arial, sans-serif"
BLUE = "#3636b4"
HALO = "rgba(110,110,225,0.30)"
MEMBER = "rgba(70,160,40,0.40)"
AVG = "#661100"
GRID = "#dcdcdc"
DARK = "#606060"
BOX_FILL = "#fbfbbe"

PANELS = [
    dict(title="Temperatuur 2m", ticks=TEMP_TICKS, control=TEMP_CONTROL, average=TEMP_AVERAGE,
         members=TEMP_MEMBERS, zero=True),
    dict(title="Dauwpunt 2m", ticks=DEW_TICKS, control=DEW_CONTROL, average=DEW_AVERAGE,
         members=DEW_MEMBERS, zero=False),
    dict(title="Neerslag", ticks=RAIN_TICKS, control=RAIN_CONTROL, average=RAIN_AVERAGE,
         members=RAIN_MEMBERS, zero=False),
    dict(title="10m wind", ticks=WIND_TICKS, control=WIND_CONTROL, average=WIND_AVERAGE,
         members=WIND_MEMBERS, zero=False),
    dict(title="10m windstoten", ticks=GUST_TICKS, control=GUST_CONTROL, average=GUST_AVERAGE,
         members=GUST_MEMBERS, zero=False),
    dict(title="Bedekkingsgraad", ticks=CLOUD_TICKS),
]


def px(xv, yv):
    """pixel position -> paper coords"""
    return xv / W, 1 - yv / H


fig = go.Figure()
layout = dict(width=W, height=H, margin=dict(l=0, r=0, t=0, b=0),
              paper_bgcolor="white", plot_bgcolor="white", showlegend=False)
shapes = []
annotations = []

top_ticks = HOURS
top_text = [DAYS[h // 24] if h % 24 == 0 else "" for h in HOURS]
bot_ticks = list(range(12, 366, 6))
bot_text = [DAYS[(h - 6) // 24] if (h - 6) % 24 == 0 else "" for h in bot_ticks]

for i, p in enumerate(PANELS):
    n = "" if i == 0 else str(i + 1)
    xa, ya = "x" + n, "y" + n
    top_px = 19.5 + 300 * i
    bot_px = 280.5 + 300 * i
    last = i == 5
    ticks = bot_ticks if last else top_ticks

    left = 26.7 if last else 28.3
    layout["xaxis" + n] = dict(
        domain=[left / W, 633.3 / W], anchor=ya,
        range=[8.2, 363] if last else [0, 354],
        tickvals=ticks, ticktext=bot_text if last else top_text,
        ticks="outside", ticklen=4, tickcolor="black",
        showgrid=False,
        showline=True, linecolor="black", linewidth=1, mirror=True,
        zeroline=False, tickfont=dict(family=FONT, size=11, color="black"))
    layout["yaxis" + n] = dict(
        domain=[1 - bot_px / H, 1 - top_px / H], anchor=xa,
        range=[p["ticks"][0], p["ticks"][-1]],
        tickvals=p["ticks"], ticktext=[str(v) for v in p["ticks"]],
        ticks="outside", ticklen=4, tickcolor="black",
        showgrid=True, gridcolor=GRID, gridwidth=1,
        showline=True, linecolor="black", linewidth=1, mirror=True,
        zeroline=p.get("zero", False), zerolinecolor="black", zerolinewidth=3,
        tickfont=dict(family=FONT, size=11, color="black"))

    # 6-hourly light grid and dark day boundaries
    for h in ticks:
        if h <= 0:
            continue
        dark = h in MIDNIGHTS
        shapes.append(dict(type="line", xref=xa, yref=ya + " domain", x0=h, x1=h, y0=0, y1=1,
                           line=dict(color=DARK if dark else GRID, width=1), layer="below"))

    # header texts
    s = 300 * i
    tx, ty = px(415.5, s + 12.5)
    annotations.append(dict(text="<b>%s</b>" % p["title"], x=tx, y=ty, xref="paper", yref="paper",
                            xanchor="center", yanchor="middle", showarrow=False,
                            font=dict(family=FONT, size=13.5, color="black")))
    for txt, yy in (("Infoplaza.nl - regio Hamburg", s + 4.5), ("Gemaakt: za 01 dec 21:00", s + 14)):
        ix, iy = px(633, yy)
        annotations.append(dict(text=txt, x=ix, y=iy, xref="paper", yref="paper",
                                xanchor="right", yanchor="middle", showarrow=False,
                                font=dict(family=FONT, size=9.5, color="#a0a0a0")))

    if not last:
        ly = 1 - (s + 13.3) / H
        for x0, x1, style in ((28.3, 45, dict(color=BLUE, width=4)),
                              (106, 121.7, dict(color="rgba(70,160,40,0.5)", width=1)),
                              (194.3, 208.3, dict(color=AVG, width=3, dash="3px,2px"))):
            shapes.append(dict(type="line", xref="paper", yref="paper", x0=x0 / W, x1=x1 / W,
                               y0=ly, y1=ly, line=style))
        for txt, x0 in (("Control", 47.7), ("Members", 125), ("Average", 213.7)):
            annotations.append(dict(text=txt, x=x0 / W, y=ly, xref="paper", yref="paper",
                                    xanchor="left", yanchor="middle", showarrow=False,
                                    font=dict(family=FONT, size=10.5, color="black")))

        for m in p["members"]:
            fig.add_trace(go.Scatter(x=HOURS[:len(m)], y=m, mode="lines", xaxis=xa, yaxis=ya,
                                     line=dict(color=MEMBER, width=1), hoverinfo="skip"))
        fig.add_trace(go.Scatter(x=HOURS, y=p["control"], mode="lines", xaxis=xa, yaxis=ya,
                                 line=dict(color=HALO, width=7), hoverinfo="skip"))
        fig.add_trace(go.Scatter(x=HOURS, y=p["control"], mode="lines", xaxis=xa, yaxis=ya,
                                 line=dict(color=BLUE, width=3.6), name="Control"))
        fig.add_trace(go.Scatter(x=HOURS, y=p["average"], mode="lines", xaxis=xa, yaxis=ya,
                                 line=dict(color=AVG, width=3, dash="3px,2px"), name="Average"))
    else:
        ly = 1 - (s + 13.5) / H
        for x0, fill, edge in ((28.3, BLUE, "#1c1c60"), (97.7, BOX_FILL, "#444444"),
                               (155.7, "black", "black")):
            shapes.append(dict(type="rect", xref="paper", yref="paper", x0=x0 / W, x1=(x0 + 6.4) / W,
                               y0=ly - 3.2 / H, y1=ly + 3.2 / H, fillcolor=fill,
                               line=dict(color=edge, width=1)))
        for txt, x0 in (("control", 39.3), ("50%", 106.7), ("median", 166.7)):
            annotations.append(dict(text=txt, x=x0 / W, y=ly, xref="paper", yref="paper",
                                    xanchor="left", yanchor="middle", showarrow=False,
                                    font=dict(family=FONT, size=10.5, color="black")))

        fig.add_trace(go.Bar(x=CLOUD_HOURS, y=[hi - lo for hi, lo in zip(CLOUD_HIGH, CLOUD_LOW)],
                             base=CLOUD_LOW, width=4.8, xaxis=xa, yaxis=ya,
                             marker=dict(color=BOX_FILL, line=dict(color="#c4c4ae", width=1)),
                             hoverinfo="skip"))
        fig.add_trace(go.Scatter(x=CLOUD_HOURS, y=CLOUD_MEDIAN, mode="markers", xaxis=xa, yaxis=ya,
                                 marker=dict(symbol="line-ew", size=8,
                                             line=dict(color="#333333", width=1.2))))
        fig.add_trace(go.Scatter(x=CLOUD_HOURS, y=CLOUD_CONTROL, mode="lines", xaxis=xa, yaxis=ya,
                                 line=dict(color="rgba(130,130,235,0.35)", width=5), hoverinfo="skip"))
        fig.add_trace(go.Scatter(x=CLOUD_HOURS, y=CLOUD_CONTROL, mode="lines", xaxis=xa, yaxis=ya,
                                 line=dict(color="#3838b8", width=2.4), name="control"))

layout["shapes"] = shapes
layout["annotations"] = annotations
fig.update_layout(**layout)

# the page body has a default 8px margin; drop it so the figure sits at 0,0
fig.write_html("out.html", config={"displayModeBar": False},
               post_script="document.body.style.margin='0px';")
